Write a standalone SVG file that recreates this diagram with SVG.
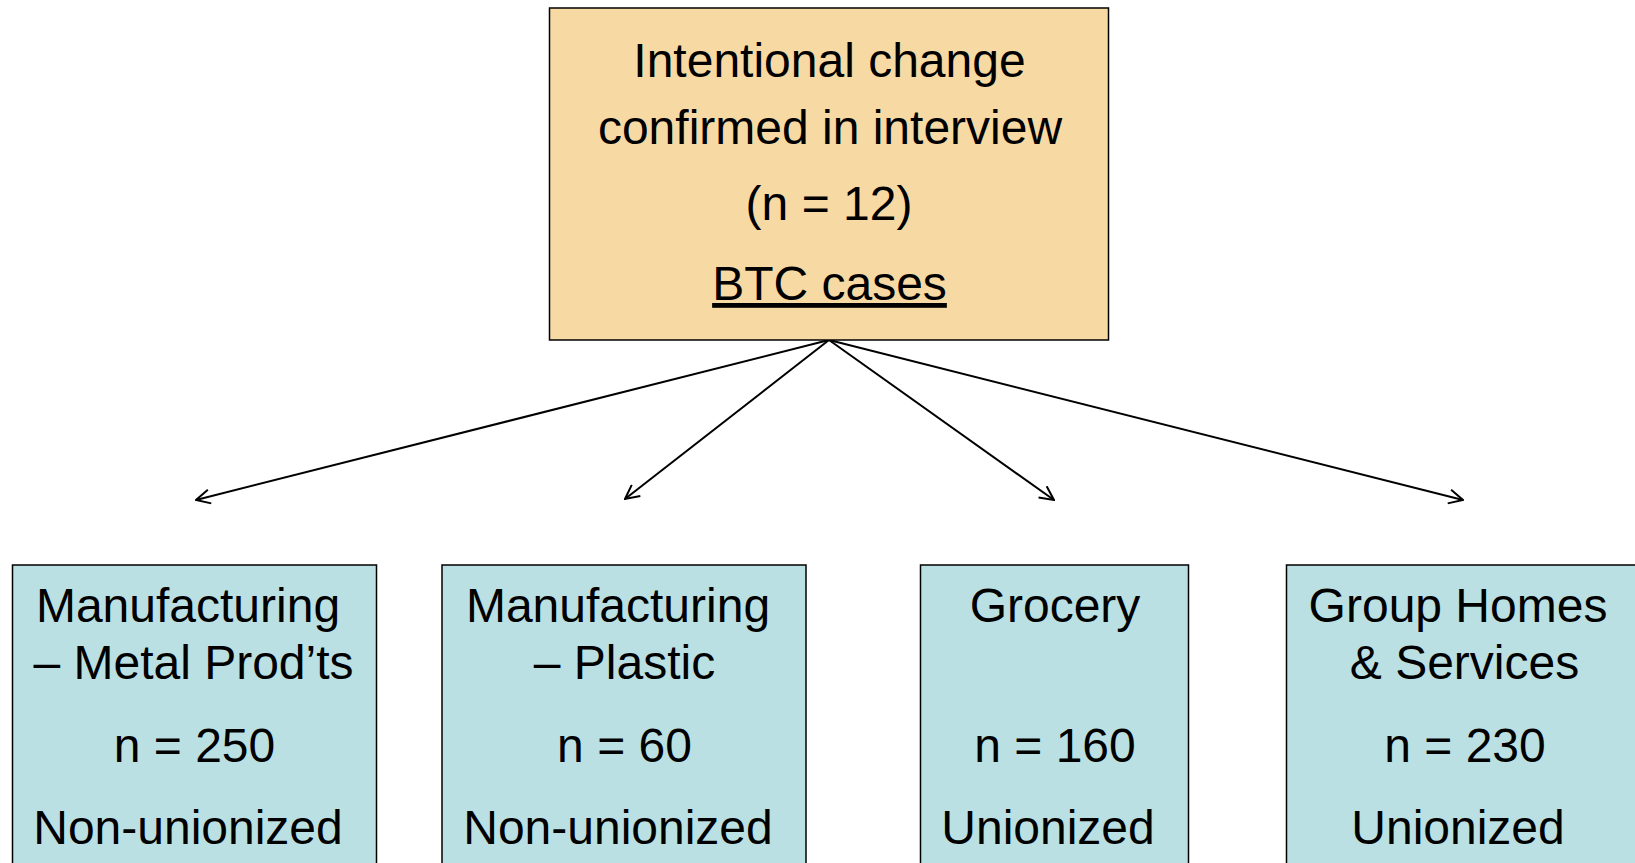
<svg xmlns="http://www.w3.org/2000/svg" width="1635" height="863" viewBox="0 0 1635 863">
<defs>
<style>
.t{font-family:"Liberation Sans",Arial,sans-serif;font-size:48px;fill:#000;text-anchor:middle}
.top{fill:#F7D9A4;stroke:#000;stroke-width:1.5}
.bot{fill:#BBE0E3;stroke:#000;stroke-width:1.5}
.c{stroke:#000;stroke-width:2;fill:none}
</style>
<marker id="ah" viewBox="0 0 16 16" refX="15" refY="8" markerWidth="16" markerHeight="16" markerUnits="userSpaceOnUse" orient="auto">
<path d="M1,1 L15,8 L1,15" fill="none" stroke="#000" stroke-width="2"/>
</marker>
</defs>
<rect width="1635" height="863" fill="#fff"/>
<g id="connectors">
<line class="c" x1="829" y1="340" x2="196" y2="500" marker-end="url(#ah)"/>
<line class="c" x1="829" y1="340" x2="625" y2="499" marker-end="url(#ah)"/>
<line class="c" x1="829" y1="340" x2="1054" y2="500" marker-end="url(#ah)"/>
<line class="c" x1="829" y1="340" x2="1463" y2="500" marker-end="url(#ah)"/>
</g>
<g id="root">
<rect class="top" x="549.5" y="8" width="559" height="332"/>
<text class="t" x="829.5" y="77">Intentional change</text>
<text class="t" x="830" y="144">confirmed in interview</text>
<text class="t" x="829" y="220">(n = 12)</text>
<text class="t" x="829.5" y="300" text-decoration="underline">BTC cases</text>
</g>
<g id="metal">
<rect class="bot" x="12.5" y="565" width="364" height="310"/>
<text class="t" x="188" y="622">Manufacturing</text>
<text class="t" x="193.5" y="679">– Metal Prod’ts</text>
<text class="t" x="194.5" y="762">n = 250</text>
<text class="t" x="188" y="844">Non-unionized</text>
</g>
<g id="plastic">
<rect class="bot" x="442" y="565" width="364" height="310"/>
<text class="t" x="618" y="622">Manufacturing</text>
<text class="t" x="624.5" y="679">– Plastic</text>
<text class="t" x="624.5" y="762">n = 60</text>
<text class="t" x="618" y="844">Non-unionized</text>
</g>
<g id="grocery">
<rect class="bot" x="920.5" y="565" width="268" height="310"/>
<text class="t" x="1055" y="622">Grocery</text>
<text class="t" x="1055" y="762">n = 160</text>
<text class="t" x="1048" y="844">Unionized</text>
</g>
<g id="grouphomes">
<rect class="bot" x="1286.5" y="565" width="360" height="310"/>
<text class="t" x="1458" y="622">Group Homes</text>
<text class="t" x="1464.5" y="679">&amp; Services</text>
<text class="t" x="1465" y="762">n = 230</text>
<text class="t" x="1458" y="844">Unionized</text>
</g>
</svg>
